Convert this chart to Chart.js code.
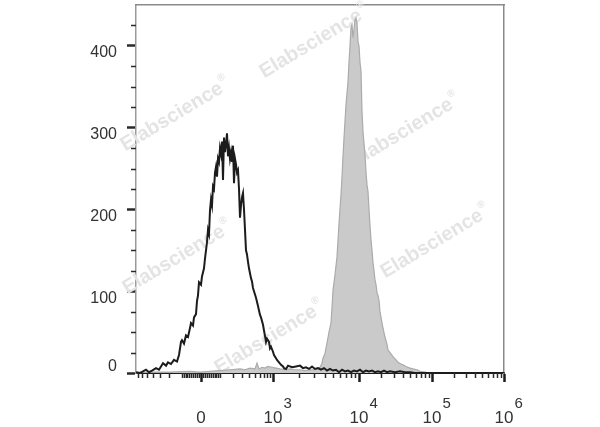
<!DOCTYPE html>
<html>
<head>
<meta charset="utf-8">
<script src="https://cdn.jsdelivr.net/npm/chart.js@4.4.1/dist/chart.umd.min.js"></script>
<style>
  html, body { margin: 0; padding: 0; background: #fff; }
  canvas { display: block; }
</style>
</head>
<body>
<canvas id="flowHist" width="600" height="427"></canvas>
<script>
// Flow cytometry overlay histogram (biexponential x axis, counts on y)

// x values are display channels (0 .. 368 across the axis)
const blackChannel = [0, 4, 7, 10, 13, 16, 20, 23, 27, 30, 32, 35, 38, 41, 43, 45, 46, 48, 50, 52, 54, 55, 57, 58, 60, 61, 62, 63, 65, 66, 68, 69, 70, 71, 72, 73, 74, 75, 76, 77, 78, 79, 80, 81, 82, 83, 84, 85, 86, 87, 88, 89, 90, 91, 92, 93, 94, 95, 96, 97, 98, 99, 100, 101, 102, 103, 104, 105, 106, 107, 108, 109, 110, 111, 112, 113, 114, 115, 116, 117, 118, 120, 122, 124, 125, 127, 128, 129, 130, 131, 132, 133, 134, 135, 137, 138, 140, 141, 143, 145, 147, 148, 150, 152, 156, 160, 164, 167, 170, 173, 176, 179, 182, 185, 188, 191, 194, 197, 200, 203, 206, 209, 212, 215, 218, 221, 224, 227, 230, 233, 236, 239, 242, 245, 248, 251, 254, 259, 264, 269, 274, 279, 368];
const blackCount = [1, 0, 2, 4, 1, 3, 6, 4, 12, 9, 13, 11, 16, 14, 22, 38, 40, 36, 46, 44, 55, 61, 58, 68, 72, 88, 95, 111, 108, 118, 128, 140, 150, 160, 175, 170, 199, 212, 205, 228, 225, 245, 252, 240, 262, 258, 275, 268, 283, 236, 288, 270, 280, 293, 265, 275, 262, 270, 258, 278, 232, 262, 255, 245, 248, 225, 190, 205, 215, 220, 200, 175, 150, 145, 136, 128, 122, 116, 112, 104, 100, 92, 82, 71, 68, 59, 52, 45, 38, 42, 40, 38, 30, 32, 26, 22, 18, 16, 13, 10, 8, 6, 5, 9, 7, 8, 9, 6, 7, 5, 8, 5, 6, 4, 6, 3, 5, 3, 4, 1, 4, 2, 3, 1, 3, 2, 4, 1, 3, 2, 3, 1, 2, 1, 3, 1, 2, 1, 2, 1, 1, 0, 0];

const grayChannel = [0, 14, 34, 54, 64, 74, 84, 94, 104, 109, 114, 119, 121, 123, 126, 129, 132, 136, 140, 144, 149, 154, 159, 164, 169, 174, 179, 182, 184, 186, 187, 189, 191, 193, 195, 196, 197, 199, 201, 202, 203, 205, 206, 207, 208, 209, 210, 211, 212, 213, 214, 215, 216, 217, 218, 219, 220, 221, 222, 223, 224, 225, 226, 227, 229, 230, 231, 232, 233, 234, 235, 236, 237, 238, 239, 240, 241, 242, 243, 244, 246, 247, 249, 251, 252, 254, 257, 260, 262, 265, 267, 270, 274, 277, 281, 284, 289, 294, 368];
const grayCount = [0, 1, 1, 2, 1, 2, 3, 4, 5, 4, 6, 5, 12, 5, 7, 6, 8, 7, 6, 5, 4, 5, 4, 4, 3, 4, 4, 5, 7, 12, 18, 24, 37, 50, 61, 80, 101, 120, 142, 162, 183, 218, 240, 265, 287, 308, 328, 342, 356, 380, 400, 422, 426, 410, 420, 432, 434, 428, 405, 400, 380, 369, 320, 295, 267, 245, 230, 222, 200, 180, 163, 150, 135, 125, 114, 108, 98, 95, 89, 75, 61, 55, 44, 35, 28, 25, 20, 16, 13, 11, 10, 8, 6, 5, 4, 2, 1, 0, 0];

// axis
const xMajorValues = [0, 1e3, 1e4, 1e5, 1e6];
const xTickBase = ['0', '10', '10', '10', '10'];
const xTickExp = ['', '3', '4', '5', '6'];
const yMajorValues = [0, 100, 200, 300, 400];
const yMax = 450;
const channelMax = 368;

// channel position of 0 and each decade
const zeroChannel = 65;
const decadeChannel = { 3: 137, 4: 223, 5: 296, 6: 368 };

function toChannel(v) {
    if (Math.abs(v) <= 1000) {
        const w = 130;
        return zeroChannel + Math.sign(v) * (decadeChannel[3] - zeroChannel) *
            Math.asinh(Math.abs(v) / w) / Math.asinh(1000 / w);
    }
    const e = Math.floor(Math.log10(v));
    if (e >= 6) return decadeChannel[6];
    return decadeChannel[e] + (decadeChannel[e + 1] - decadeChannel[e]) * (Math.log10(v) - e);
}

// minor ticks: linear near zero, then per decade
const xMinorValues = [];
for (let m = 1; m <= 9; m++) { xMinorValues.push(m * 10, -m * 10, m * 100, -m * 100); }
for (let e = 3; e <= 5; e++) {
    for (let m = 2; m <= 9; m++) xMinorValues.push(m * Math.pow(10, e));
}
const yMinorValues = [];
for (let v = 25; v < yMax; v += 25) { if (v % 100 !== 0) yMinorValues.push(v); }

const FONT = "'Liberation Sans', Arial, Helvetica, sans-serif";

const watermarks = [
    { x: 314, y: 42 }, { x: 175, y: 115 }, { x: 405, y: 131 },
    { x: 177, y: 258 }, { x: 435, y: 242 }, { x: 269, y: 338 }
];

const watermarkPlugin = {
    id: 'watermark',
    beforeDatasetsDraw(chart) {
        const c = chart.ctx;
        c.save();
        c.fillStyle = '#e4e4e4';
        c.textBaseline = 'middle';
        watermarks.forEach(w => {
            c.save();
            c.translate(w.x, w.y);
            c.rotate(-31 * Math.PI / 180);
            c.font = 'bold 20px ' + FONT;
            const t = 'Elabscience';
            const tw = c.measureText(t).width;
            c.font = 'bold 10px ' + FONT;
            const rw = c.measureText('®').width;
            const x0 = -(tw + rw) / 2;
            c.font = 'bold 20px ' + FONT;
            c.fillText(t, x0, 0);
            c.font = 'bold 10px ' + FONT;
            c.fillText('®', x0 + tw + 1, -8);
            c.restore();
        });
        c.restore();
    }
};

const axisDecor = {
    id: 'axisDecor',
    afterDraw(chart) {
        const c = chart.ctx;
        const xs = chart.scales.x, ys = chart.scales.y;
        const area = chart.chartArea;
        c.save();
        // minor ticks
        c.strokeStyle = '#2a2a2a';
        c.lineWidth = 1.5;
        c.beginPath();
        xMinorValues.forEach(v => {
            const ch = toChannel(v);
            if (ch < 0 || ch > channelMax) return;
            const px = Math.round(xs.getPixelForValue(ch)) + 0.5;
            c.moveTo(px, area.bottom);
            c.lineTo(px, area.bottom + 5);
        });
        yMinorValues.forEach(v => {
            const py = Math.round(ys.getPixelForValue(v)) + 0.5;
            c.moveTo(area.left, py);
            c.lineTo(area.left - 5, py);
        });
        c.stroke();

        // y labels
        c.fillStyle = '#333';
        c.font = '16px ' + FONT;
        c.textAlign = 'right';
        c.textBaseline = 'middle';
        yMajorValues.forEach(v => {
            const py = ys.getPixelForValue(v) + (v === 0 ? -6 : 7);
            c.fillText(String(v), area.left - 19, py);
        });

        // x labels with superscript exponents
        xMajorValues.forEach((v, i) => {
            const px = xs.getPixelForValue(toChannel(v));
            const py = area.bottom + 45;
            c.font = '17px ' + FONT;
            c.textAlign = 'center';
            c.fillText(xTickBase[i], px, py);
            if (xTickExp[i]) {
                const bw = c.measureText(xTickBase[i]).width;
                c.font = '15px ' + FONT;
                c.textAlign = 'left';
                c.fillText(xTickExp[i], px + bw / 2 + 1, py - 14);
            }
        });
        c.restore();
    }
};

new Chart(document.getElementById('flowHist'), {
    type: 'line',
    data: {
        datasets: [
            {
                label: 'Control',
                data: blackChannel.map((ch, i) => ({ x: ch, y: blackCount[i] })),
                borderColor: '#1c1c1c',
                borderWidth: 2,
                pointRadius: 0,
                fill: false,
                tension: 0
            },
            {
                label: 'Stained',
                data: grayChannel.map((ch, i) => ({ x: ch, y: grayCount[i] })),
                borderColor: '#ababab',
                backgroundColor: '#cacaca',
                borderWidth: 1.2,
                pointRadius: 0,
                fill: 'origin',
                tension: 0
            }
        ]
    },
    options: {
        responsive: false,
        animation: false,
        devicePixelRatio: 1,
        layout: { padding: { left: 127, right: 96, top: 5, bottom: 45 } },
        plugins: {
            legend: { display: false },
            tooltip: { enabled: false }
        },
        scales: {
            x: {
                type: 'linear',
                min: 0,
                max: channelMax,
                afterBuildTicks: (scale) => {
                    scale.ticks = xMajorValues.map(v => ({ value: toChannel(v) }));
                },
                ticks: { display: false },
                grid: {
                    drawOnChartArea: false,
                    drawTicks: true,
                    tickLength: 9,
                    tickWidth: 2.5,
                    tickColor: '#1c1c1c'
                },
                border: { display: true, color: '#1c1c1c', width: 2 }
            },
            y: {
                type: 'linear',
                min: 0,
                max: yMax,
                afterBuildTicks: (scale) => {
                    scale.ticks = yMajorValues.map(v => ({ value: v }));
                },
                ticks: { display: false },
                grid: {
                    drawOnChartArea: false,
                    drawTicks: true,
                    tickLength: 9,
                    tickWidth: 2.5,
                    tickColor: '#2a2a2a'
                },
                border: { display: true, color: '#9a9a9a', width: 1.5 }
            },
            x2: {
                type: 'linear',
                position: 'top',
                min: 0,
                max: channelMax,
                ticks: { display: false },
                grid: { display: false, drawTicks: false },
                border: { display: true, color: '#8a8a8a', width: 1.5 }
            },
            y2: {
                type: 'linear',
                position: 'right',
                min: 0,
                max: yMax,
                ticks: { display: false },
                grid: { display: false, drawTicks: false },
                border: { display: true, color: '#8a8a8a', width: 1.5 }
            }
        }
    },
    plugins: [watermarkPlugin, axisDecor]
});
</script>
</body>
</html>
